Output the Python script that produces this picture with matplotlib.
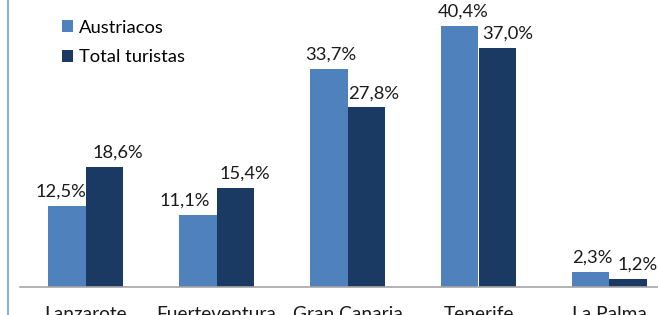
import matplotlib
matplotlib.use("Agg")
import matplotlib.pyplot as plt
from matplotlib.lines import Line2D
import numpy as np

islas = ["Lanzarote", "Fuerteventura", "Gran Canaria", "Tenerife", "La Palma"]
austriacos = [12.5, 11.1, 33.7, 40.4, 2.3]
total_turistas = [18.6, 15.4, 27.8, 37.0, 1.2]

# horizontal nudges (px) of the value labels, as placed in the original
nudge_aus = [-6, -13, 2, 3, 1]
nudge_tot = [14, 10, 8, 11, 10]

c_aus = "#4F81BD"
c_tot = "#1B3A63"

plt.rcParams["font.family"] = ["Lato", "DejaVu Sans"]
plt.rcParams["font.size"] = 13.2

W, H = 658, 315
fig = plt.figure(figsize=(W / 100, H / 100), dpi=100)
# axes runs past the right edge, like the cropped original
ax = fig.add_axes([20 / W, 28 / H, 655 / W, 290.7 / H])

x = np.arange(len(islas))
w = 0.283
b1 = ax.bar(x - w / 2, austriacos, w, color=c_aus, label="Austriacos", lw=0)
b2 = ax.bar(x + w / 2, total_turistas, w, color=c_tot, label="Total turistas", lw=0)

def fmt(v):
    return f"{v:.1f}".replace(".", ",") + "%"

for bars, vals, nud in ((b1, austriacos, nudge_aus), (b2, total_turistas, nudge_tot)):
    for r, v, dx in zip(bars, vals, nud):
        ax.annotate(fmt(v), (r.get_x() + r.get_width() / 2, v),
                    xytext=(dx * 0.72, 4.5), textcoords="offset points",
                    ha="center", va="bottom", color="#1a1a1a")

ax.set_xlim(-0.5, 4.5)
ax.set_ylim(0, 45)
ax.set_xticks(x)
ax.set_xticklabels(islas, fontsize=13.8)
ax.set_yticks([])
ax.tick_params(axis="x", length=0, pad=13.5, colors="#1a1a1a")
for s in ("left", "right", "top"):
    ax.spines[s].set_visible(False)
ax.spines["bottom"].set_color("#A6A6A6")
ax.spines["bottom"].set_linewidth(1.2)

leg = ax.legend(loc="upper left", bbox_to_anchor=(35 / 655, 0.945), frameon=False,
                handlelength=0.6, handleheight=0.6, handletextpad=0.3,
                labelspacing=0.75, borderaxespad=0)

fig.add_artist(Line2D([7.5 / W, 7.5 / W], [0, 1], color="#6E9FD8", lw=1.2))

fig.savefig("out.png", dpi=100)
